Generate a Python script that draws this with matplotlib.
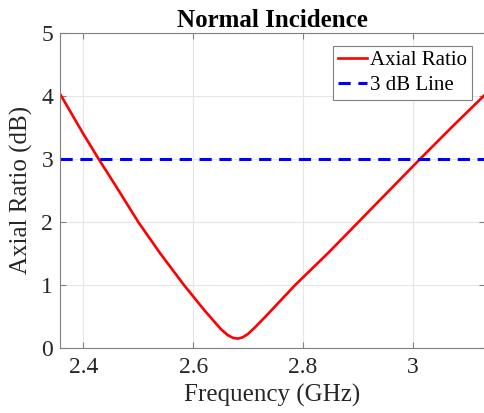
import matplotlib
matplotlib.use("Agg")
import matplotlib.pyplot as plt

# values
freq = [2.358, 2.40, 2.428, 2.46, 2.50, 2.54, 2.583, 2.62, 2.65, 2.663,
        2.673, 2.681, 2.69, 2.70, 2.712, 2.73, 2.786, 2.845, 2.901, 2.957,
        3.013, 3.07, 3.131]
axial_ratio = [4.03, 3.40, 3.00, 2.56, 2.00, 1.50, 1.00, 0.60, 0.30, 0.20,
               0.155, 0.145, 0.165, 0.22, 0.32, 0.48, 1.00, 1.50, 2.00, 2.50,
               3.00, 3.50, 4.02]
threshold = 3
x_ticks = [2.4, 2.6, 2.8, 3.0]
x_labels = ["2.4", "2.6", "2.8", "3"]
y_ticks = [0, 1, 2, 3, 4, 5]

plt.rcParams["font.family"] = ["Liberation Serif", "DejaVu Serif"]

fig = plt.figure(figsize=(4.85, 4.13), dpi=100)
ax = fig.add_axes([0.124, 0.158, 0.876, 0.762])

ax.plot(freq, axial_ratio, color="red", lw=1.9, label="Axial Ratio")
ax.axhline(threshold, color="blue", lw=2.2, ls=(0, (4, 2.5)), label="3 dB Line")

ax.set_xlim(2.358, 3.131)
ax.set_ylim(0, 5)
ax.set_xticks(x_ticks)
ax.set_xticklabels(x_labels)
ax.set_yticks(y_ticks)

ax.grid(True, color="#e6e6e6", lw=0.8)
ax.set_axisbelow(True)
for s in ax.spines.values():
    s.set_color("#808080")
    s.set_linewidth(0.8)
ax.tick_params(direction="in", top=True, right=True, color="#808080",
               labelsize=17, labelcolor="#262626", length=4)
ax.tick_params(axis="x", pad=7)
ax.tick_params(axis="y", pad=5)

ax.set_xlabel("Frequency (GHz)", fontsize=18, color="#262626", labelpad=4)
ax.set_ylabel("Axial Ratio (dB)", fontsize=18, color="#262626", labelpad=6)
ax.set_title("Normal Incidence", fontsize=18, fontweight="bold", pad=4)

leg = ax.legend(loc="upper right", fontsize=15, handlelength=1.4,
                handletextpad=0.15, borderpad=0.25, labelspacing=0.25,
                borderaxespad=0.6, fancybox=False, framealpha=1)
leg.get_frame().set_edgecolor("#808080")
leg.get_frame().set_linewidth(0.8)

fig.savefig("out.png", dpi=100)
